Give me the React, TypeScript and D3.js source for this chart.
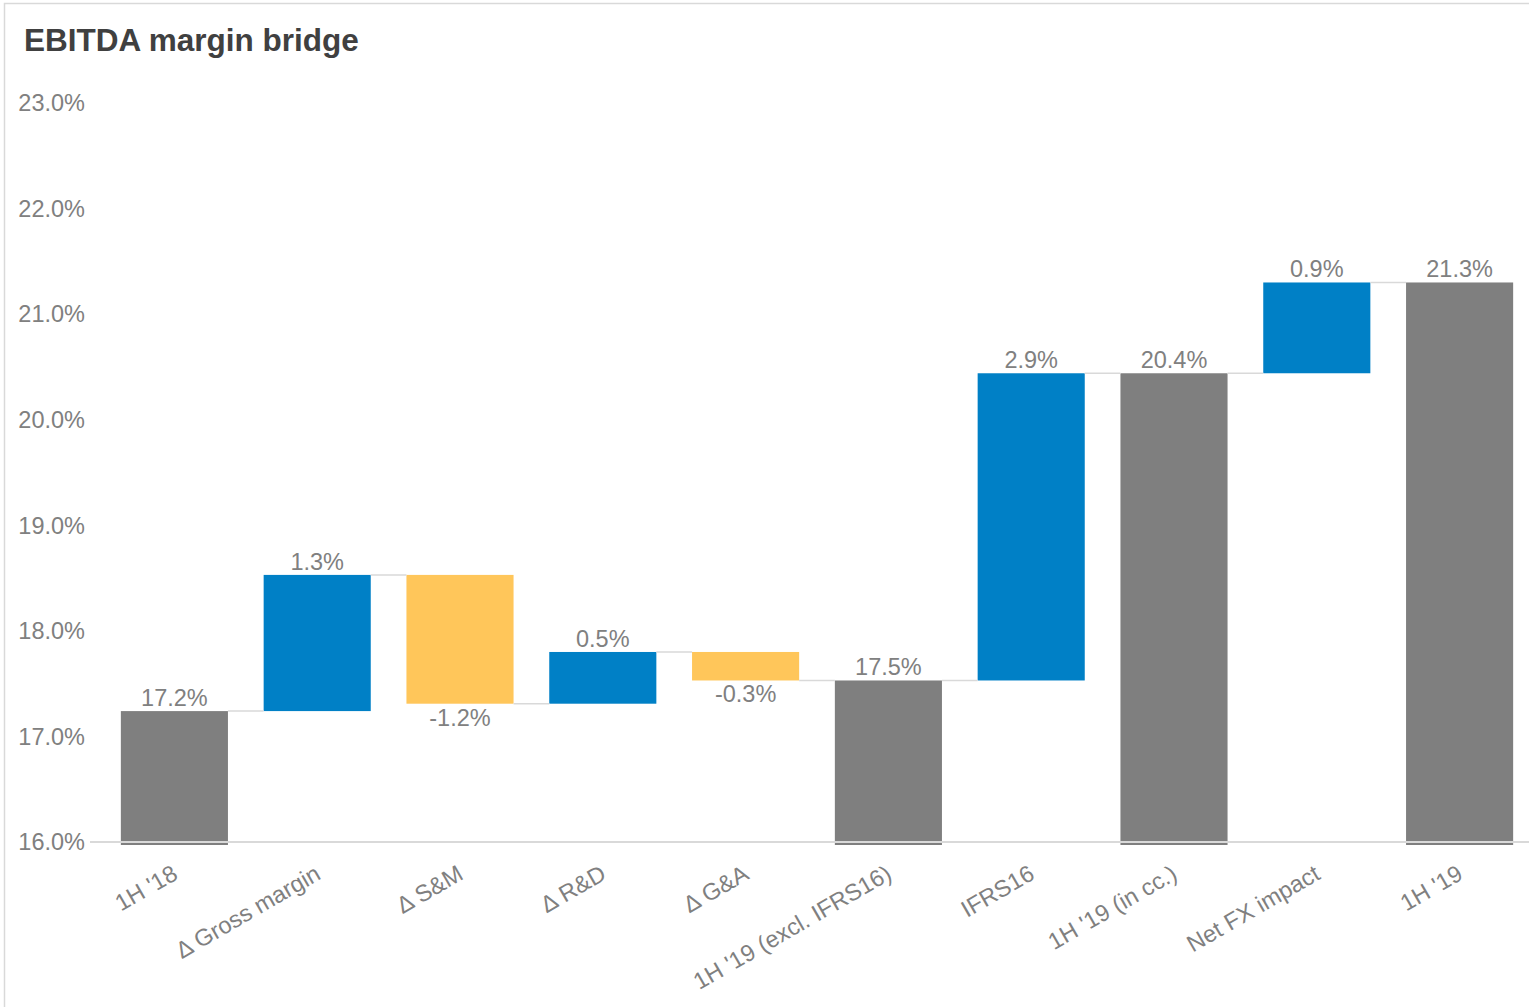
import React from "react";
import * as d3 from "d3";

const categories = [
  "1H '18",
  "Δ Gross margin",
  "Δ S&M",
  "Δ R&D",
  "Δ G&A",
  "1H '19 (excl. IFRS16)",
  "IFRS16",
  "1H '19 (in cc.)",
  "Net FX impact",
  "1H '19",
];
// value: delta for steps, level for totals
const values = [17.24, 1.29, -1.22, 0.49, -0.27, 17.53, 2.91, 20.44, 0.86, 21.3];
const isTotal = [true, false, false, false, false, true, false, true, false, true];
const labels = ["17.2%", "1.3%", "-1.2%", "0.5%", "-0.3%", "17.5%", "2.9%", "20.4%", "0.9%", "21.3%"];
const yTicks = [16, 17, 18, 19, 20, 21, 22, 23];

const W = 1529;
const H = 1007;
const GRAY = "#7f7f7f";
const BLUE = "#0080c6";
const YELLOW = "#ffc65a";
const TEXT = "#808080";
const FONT = "'Liberation Sans', Arial, sans-serif";

export default function App() {
  const x = d3.scaleBand<string>().domain(categories).range([103, 1531]).paddingInner(0.25).paddingOuter(0.125);
  const y = d3.scaleLinear().domain([16, 23]).range([842, 103]);

  let level = 0;
  const bars = categories.map((c, i) => {
    let lo: number, hi: number, end: number;
    if (isTotal[i]) {
      lo = 16;
      hi = values[i];
      end = values[i];
    } else {
      const start = level;
      end = level + values[i];
      lo = Math.min(start, end);
      hi = Math.max(start, end);
    }
    level = end;
    const color = isTotal[i] ? GRAY : values[i] >= 0 ? BLUE : YELLOW;
    return { c, i, lo, hi, end, color, neg: !isTotal[i] && values[i] < 0 };
  });

  const bw = x.bandwidth();

  return (
    <div style={{ position: "absolute", left: 0, top: 0 }}>
      <svg width={W} height={H} style={{ display: "block", fontFamily: FONT }}>
        <rect x={0} y={0} width={W} height={H} fill="#fff" />
        <path d={`M4.5,${H} V3.5 H${W}`} fill="none" stroke="#d9d9d9" strokeWidth={1.5} />
        <text x={24} y={51} fontSize={31.5} fontWeight="bold" fill="#404040">
          EBITDA margin bridge
        </text>
        {yTicks.map((t) => (
          <text key={t} x={85} y={y(t)} dy="0.35em" textAnchor="end" fontSize={23.5} fill={TEXT}>
            {t.toFixed(1)}%
          </text>
        ))}
        {bars.map((b) => (
          <rect
            key={b.c}
            x={x(b.c)!}
            y={y(b.hi)}
            width={bw}
            height={y(b.lo) - y(b.hi) + (isTotal[b.i] ? 3 : 0)}
            fill={b.color}
          />
        ))}
        {bars.slice(0, -1).map((b, i) => (
          <line
            key={"c" + i}
            x1={x(b.c)! + bw}
            x2={x(categories[i + 1])!}
            y1={y(b.end)}
            y2={y(b.end)}
            stroke="#d9d9d9"
            strokeWidth={1.5}
          />
        ))}
        <line x1={90} x2={W} y1={y(16)} y2={y(16)} stroke="#d9d9d9" strokeWidth={2} />
        {bars.map((b) => (
          <text
            key={"l" + b.c}
            x={x(b.c)! + bw / 2}
            y={b.neg ? y(b.lo) + 22 : y(b.hi) - 5}
            textAnchor="middle"
            fontSize={23.5}
            fill={TEXT}
          >
            {labels[b.i]}
          </text>
        ))}
        {categories.map((c) => (
          <text
            key={"x" + c}
            transform={`translate(${x(c)! + bw / 2 - 4},863) rotate(-30)`}
            dy="0.75em"
            textAnchor="end"
            fontSize={23.5}
            fill={TEXT}
          >
            {c}
          </text>
        ))}
      </svg>
    </div>
  );
}
